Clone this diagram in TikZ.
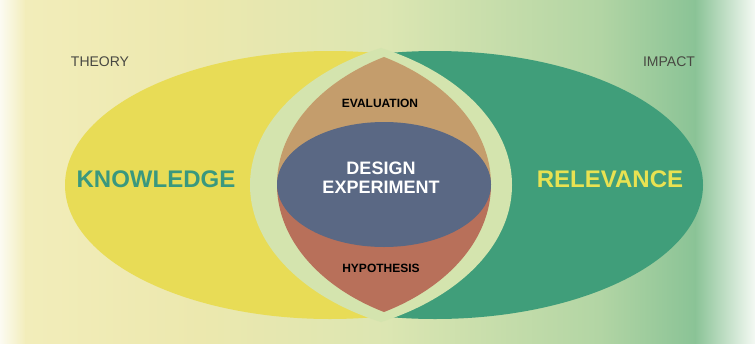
\documentclass[tikz,border=0pt]{standalone}
\usepackage{fontspec}
\setmainfont{Liberation Sans}
\usepackage{tikz}
\usepackage{xcolor}
\usetikzlibrary{positioning}

\definecolor{bg-white}{RGB}{252,251,242}
\definecolor{bg-pale}{RGB}{242,237,186}
\definecolor{bg-cream}{RGB}{236,232,174}
\definecolor{bg-mid}{RGB}{220,230,178}
\definecolor{bg-green}{RGB}{178,213,164}
\definecolor{bg-deep}{RGB}{138,195,150}
\definecolor{bg-edge}{RGB}{244,249,243}
\definecolor{fill-yellow}{RGB}{232,220,86}
\definecolor{fill-green}{RGB}{64,158,122}
\definecolor{fill-ring}{RGB}{212,228,174}
\definecolor{fill-tan}{RGB}{196,157,108}
\definecolor{fill-rust}{RGB}{184,112,90}
\definecolor{fill-slate}{RGB}{90,104,132}
\definecolor{text-teal}{RGB}{58,152,126}
\definecolor{text-lemon}{RGB}{232,226,82}
\definecolor{text-grey}{RGB}{72,72,66}

\begin{document}
\begin{tikzpicture}
[
x=1pt, y=-1pt,
label-big/.style={font=\fontsize{24}{26}\selectfont\bfseries, inner sep=0pt},
label-mid/.style={font=\fontsize{18}{19}\selectfont\bfseries, text=white, align=center, inner sep=0pt},
label-small/.style={font=\fontsize{12}{14}\selectfont\bfseries, text=black, inner sep=0pt},
label-side/.style={font=\fontsize{14}{16}\selectfont, text=text-grey, inner sep=0pt}
]
\useasboundingbox (0,0) rectangle (755,343);

\shade [left color=bg-white, right color=bg-pale]  (0,0)   rectangle (26,343);
\shade [left color=bg-pale,  right color=bg-cream] (25,0)  rectangle (201,343);
\shade [left color=bg-cream, right color=bg-mid]   (200,0) rectangle (386,343);
\shade [left color=bg-mid,   right color=bg-green] (385,0) rectangle (601,343);
\shade [left color=bg-green, right color=bg-deep]  (600,0) rectangle (696,343);
\shade [left color=bg-deep,  right color=bg-edge]  (695,0) rectangle (755,343);

\fill [fill-green] (435,185) ellipse [x radius=268, y radius=134];
\begin{scope}
\clip (0,0) rectangle (382,343);
\fill [fill-yellow] (330,185) ellipse [x radius=265, y radius=134];
\end{scope}

\begin{scope}
\clip (481,185) ellipse [x radius=231, y radius=152];
\fill [fill-ring] (281,185) ellipse [x radius=231, y radius=152];
\end{scope}

\begin{scope}
\clip (484,184.5) ellipse [x radius=207, y radius=145.6];
\clip (284,184.5) ellipse [x radius=207, y radius=145.6];
\fill [fill-tan]  (260,40)    rectangle (510,184.5);
\fill [fill-rust] (260,184.5) rectangle (510,330);
\end{scope}
\fill [fill-slate] (384,184.5) ellipse [x radius=107, y radius=62.5];

\node (theory)     [label-side]                  at (100,62)    {THEORY};
\node (impact)     [label-side]                  at (669,62)    {IMPACT};
\node (knowledge)  [label-big, text=text-teal]   at (156,179)   {KNOWLEDGE};
\node (relevance)  [label-big, text=text-lemon]  at (610,179)   {RELEVANCE};
\node (design)     [label-mid]                   at (381,177.5) {DESIGN\\EXPERIMENT};
\node (evaluation) [label-small]                 at (380,103)   {EVALUATION};
\node (hypothesis) [label-small]                 at (381,268)   {HYPOTHESIS};
\end{tikzpicture}
\end{document}
